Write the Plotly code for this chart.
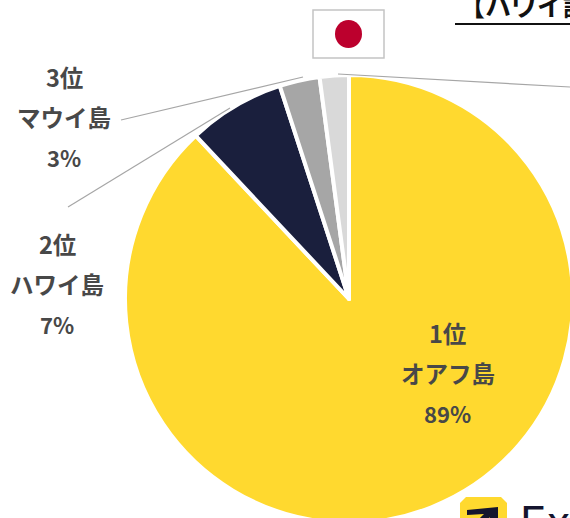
import plotly.graph_objects as go

islands = ["オアフ島", "ハワイ島", "マウイ島", "その他"]
shares = [88.0, 7.0, 2.9, 2.1]
colors = ["#FFD92F", "#1A1F3D", "#A6A6A6", "#D9D9D9"]
labels = [
    ("1位", "オアフ島", "89%", 447.5, 334),
    ("2位", "ハワイ島", "7%", 57, 245),
    ("3位", "マウイ島", "3%", 64, 78),
]
W, H = 574, 524
def px(x): return x / W
def py(y): return 1 - y / H

fig = go.Figure(go.Pie(
    labels=islands, values=shares, sort=False, direction="clockwise", rotation=0,
    marker=dict(colors=colors, line=dict(color="white", width=4)),
    textinfo="none", hoverinfo="skip", showlegend=False,
    domain=dict(x=[px(125), px(573)], y=[py(523), py(75)]),
))
FONT = "Noto Sans CJK JP"
ann = []
for a, b, c, x, y in labels:
    for i, t in enumerate((a, b, c)):
        ann.append(dict(x=px(x), y=py(y + i * 40 - 1), xref="paper", yref="paper", text=t, showarrow=False,
                        font=dict(family=FONT, size=22 if i == 2 else 23.5, color="#484848", weight="bold"),
                        xanchor="center", yanchor="middle"))
ann.append(dict(x=px(457), y=py(5), xref="paper", yref="paper", text="【ハワイ諸", showarrow=False,
                font=dict(family=FONT, size=26, color="#111111", weight="bold"), xanchor="left", yanchor="middle"))
ann.append(dict(x=px(518), y=py(522), xref="paper", yref="paper", text="Ex", showarrow=False,
                font=dict(family="Inter", size=44, color="#14142E"), xanchor="left", yanchor="middle"))
shapes = []
def line(x0, y0, x1, y1, color="#A6A6A6", width=1.2):
    shapes.append(dict(type="line", xref="paper", yref="paper", x0=px(x0), y0=py(y0), x1=px(x1), y1=py(y1),
                       line=dict(color=color, width=width)))
line(338, 74, 570, 87)
line(121, 120, 303, 77)
line(68, 207, 230, 108)
line(455, 24, 570, 24, "#111111", 2)
shapes.append(dict(type="rect", xref="paper", yref="paper", x0=px(313), y0=py(10), x1=px(384), y1=py(58),
                   line=dict(color="#C4C4C4", width=1.5), fillcolor="white"))
shapes.append(dict(type="circle", xref="paper", yref="paper", x0=px(335), y0=py(20), x1=px(362), y1=py(48),
                   line=dict(width=0), fillcolor="#BC002D"))
def path(pts, fill):
    d = "M " + " L ".join(f"{px(x):.5f},{py(y):.5f}" for x, y in pts) + " Z"
    shapes.append(dict(type="path", xref="paper", yref="paper", path=d, line=dict(width=0), fillcolor=fill))
path([(466, 497), (501, 497), (507, 503), (507, 524), (460, 524), (460, 503)], "#FFD92F")
path([(467, 510), (498, 507), (498, 524), (490, 524), (490, 517), (484, 524), (474, 524), (484, 514), (467, 515)], "#14142E")
fig.update_layout(width=W, height=H, autosize=False, margin=dict(l=0, r=0, t=0, b=0),
                  paper_bgcolor="white", annotations=ann, shapes=shapes)
fig.write_html("out.html", config={"displayModeBar": False},
               post_script="document.body.style.margin='0';document.documentElement.style.overflow='hidden';document.body.style.overflow='hidden';")
